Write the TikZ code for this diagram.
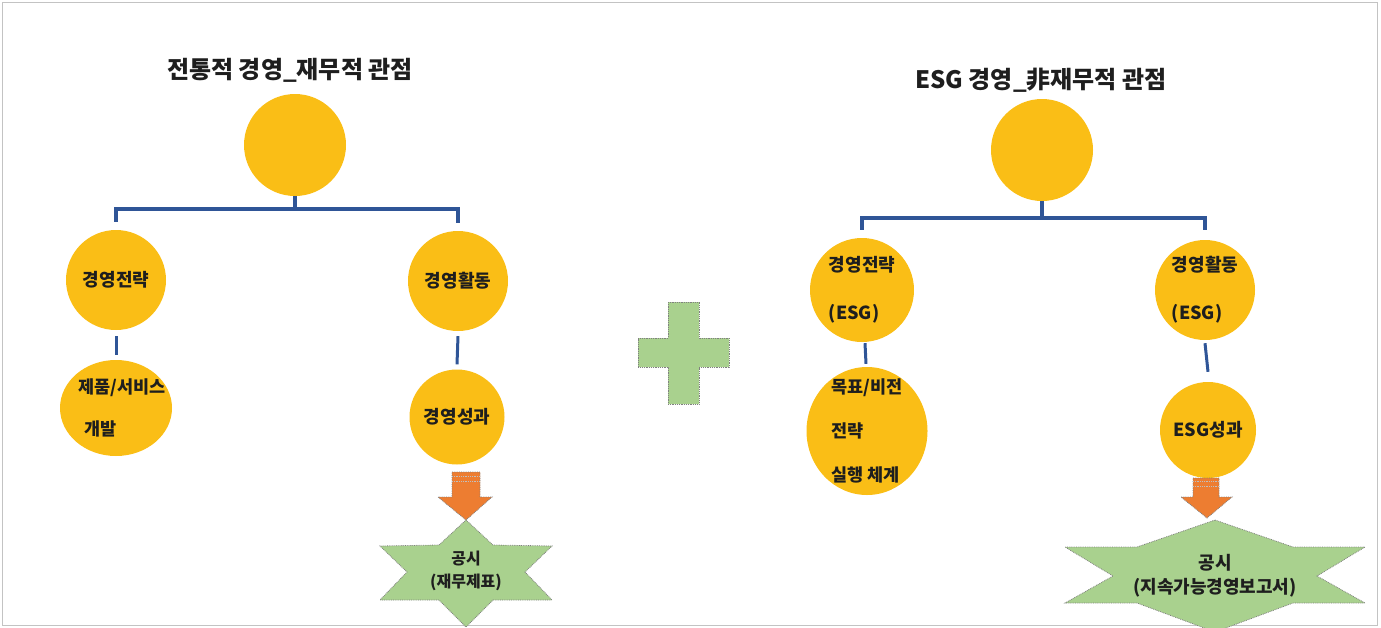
\documentclass[tikz,border=0pt]{standalone}
\usepackage{fontspec}
\setmainfont{Noto Sans CJK KR}
\usetikzlibrary{shapes.geometric}
\definecolor{gold}{RGB}{250,190,22}
\definecolor{lineblue}{RGB}{47,85,151}
\definecolor{leaf}{RGB}{169,209,142}
\definecolor{orangef}{RGB}{237,125,49}
\definecolor{ink}{RGB}{30,30,30}
\definecolor{framec}{RGB}{195,195,195}
\begin{document}
\begin{tikzpicture}[x=1pt,y=-1pt,
  ball/.style={circle, fill=gold, inner sep=0pt, text=ink, font=\bfseries\fontsize{18}{21}\selectfont, align=center},
  oval/.style={ellipse, fill=gold, inner sep=-20pt, text=ink, font=\bfseries\fontsize{17.5}{21}\selectfont, align=left},
  bracket/.style={draw=lineblue, line width=3.5pt},
  link/.style={draw=lineblue, line width=3pt},
  title/.style={text=ink, font=\bfseries\fontsize{24}{28}\selectfont},
  starbox/.style={fill=leaf, draw=gray, densely dotted, line width=0.8pt},
  blockarrow/.style={fill=orangef, draw=gray, densely dotted, line width=0.8pt},
  stripe/.style={draw=gray!50, densely dotted, line width=0.8pt},
  tag/.style={text=ink, font=\bfseries\fontsize{16}{19}\selectfont, align=center}
]
\useasboundingbox (0,0) rectangle (1381,627);
\draw[framec, line width=1pt] (2,2) rectangle (1377,625);

% ---------- left tree ----------
\node[title] (t1) at (290,70) {전통적 경영\_재무적 관점};
\node[ball, minimum size=102pt] (c0) at (295,145) {};
\node[ball, minimum size=100pt] (s1) at (116,280) {경영전략};
\node[ball, minimum size=100pt] (a1) at (458,281) {경영활동};
\node[oval, minimum width=112pt, minimum height=96pt] (p1) at (116,408) {\hspace*{12pt}제품/서비스\\[21pt]\hspace*{18pt}개발};
\node[ball, minimum size=95pt] (r1) at (457,417) {경영성과};
\coordinate (j1) at (295,209);
\draw[bracket] ([yshift=8pt]s1.north) |- (j1) -| ([yshift=8pt]a1.north);
\draw[bracket] (c0.south) -- (j1);
\draw[link] ([yshift=-6pt]s1.south) -- ([yshift=5pt]p1.north);
\draw[link] ([yshift=-5pt]a1.south) -- ([yshift=5pt]r1.north);

\path[blockarrow] (452,472) -- (480,472) -- (480,497) -- (492,497) -- (466,520) -- (438,497) -- (452,497) -- cycle;
\draw[stripe] (452,476) -- (480,476);
\draw[stripe] (452,481) -- (480,481);

\path[starbox] (466,520) -- (493,545) -- (552,546) -- (525,572) -- (552,600) -- (493,600) -- (466,627)
  -- (439,600) -- (380,600) -- (407,572) -- (380,546) -- (439,545) -- cycle;
\node[tag] (d1) at (466,571) {공시\\[4pt](재무제표)};

% ---------- plus ----------
\path[starbox] (668,302) -- (699,302) -- (699,338) -- (729,338) -- (729,367) -- (699,367) -- (699,404)
  -- (668,404) -- (668,367) -- (638,367) -- (638,338) -- (668,338) -- cycle;

% ---------- right tree ----------
\node[title] (t2) at (1041,80) {ESG 경영\_非재무적 관점};
\node[ball, minimum size=102pt] (c2) at (1042,150) {};
\node[ball, minimum size=104pt, align=left] (s2) at (862,290) {경영전략\\[27pt](ESG)};
\node[ball, minimum size=100pt, align=left] (a2) at (1205,290) {경영활동\\[27pt](ESG)};
\node[oval, minimum width=121pt, minimum height=128pt] (p2) at (867,431) {목표/비전\\[23pt]전략\\[23pt]실행 체계};
\node[ball, minimum size=96pt] (r2) at (1208,430) {ESG성과};
\coordinate (j2) at (1042,218);
\draw[bracket] ([yshift=8pt]s2.north) |- (j2) -| ([yshift=10pt]a2.north);
\draw[bracket] (c2.south) -- (j2);
\draw[link] ([xshift=3pt,yshift=-1pt]s2.south) -- ([xshift=-1pt,yshift=3pt]p2.north);
\draw[link] ([yshift=-3pt]a2.south) -- ([yshift=10pt]r2.north);

\path[blockarrow] (1193,478) -- (1219,478) -- (1219,497) -- (1232,497) -- (1207,518) -- (1181,497) -- (1193,497) -- cycle;
\draw[stripe] (1193,481) -- (1219,481);
\draw[stripe] (1193,486) -- (1219,486);

\path[starbox] (1215,520) -- (1293,547) -- (1365,547) -- (1317,576) -- (1365,603) -- (1293,603) -- (1215,632)
  -- (1137,603) -- (1065,603) -- (1113,576) -- (1065,547) -- (1137,547) -- cycle;
\node[tag, font=\bfseries\fontsize{18}{21}\selectfont] (d2) at (1215,576) {공시\\[3pt](지속가능경영보고서)};
\end{tikzpicture}
\end{document}
